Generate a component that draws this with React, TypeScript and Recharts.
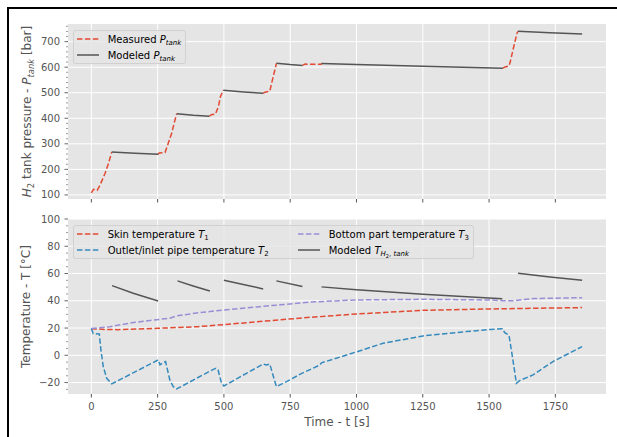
import React from 'react';
import { LineChart, Line, XAxis, YAxis, CartesianGrid, Legend, Label } from 'recharts';

const timeTicks = [0, 250, 500, 750, 1000, 1250, 1500, 1750];
const pressureTicks = [100, 200, 300, 400, 500, 600, 700];
const pressureMinorTicks = [120, 140, 160, 180, 220, 240, 260, 280, 320, 340, 360, 380, 420, 440, 460, 480, 520, 540, 560, 580, 620, 640, 660, 680, 720, 740, 760];
const temperatureTicks = [-20, 0, 20, 40, 60, 80, 100];
const temperatureMinorTicks = [-25, -15, -10, -5, 5, 10, 15, 25, 30, 35, 45, 50, 55, 65, 70, 75, 85, 90, 95];

// measured tank pressure, only during the fills (null = gap)
const measuredPTime = [0, 8, 22, 33, 52, 65, 77, 160, 250, 256, 278, 290, 303, 312, 322, 380, 445, 452, 468, 479, 487, 498, 570, 648, 655, 673, 683, 692, 698, 750, 796, 806, 866, 870, 1200, 1552, 1560, 1575, 1580, 1590, 1605, 1609];
const measuredP = [108, 122, 118, 139, 185, 224, 268, null, 258, 264, 266, 302, 341, 380, 418, null, 408, 414, 416, 445, 485, 510, null, 498, 502, 506, 550, 589, 615, null, 607, 612, 611, 615, null, 596, 601, 604, 621, 667, 732, 740];

// modeled tank pressure during the holds
const modeledPTime = [77, 165, 252, 290, 322, 385, 445, 470, 498, 575, 648, 670, 698, 750, 796, 830, 868, 1000, 1250, 1552, 1580, 1609, 1730, 1851];
const modeledP = [268, 263, 259, null, 418, 412, 408, null, 510, 503, 498, null, 615, 610, 607, null, 614, 610, 604, 596, null, 741, 735, 730];

const skinTime = [0, 50, 100, 250, 400, 500, 650, 800, 1000, 1250, 1500, 1851];
const skinT = [19.5, 19, 18.8, 19.8, 21, 22.5, 25, 27.5, 30.3, 33, 34, 35];

const pipeTime = [0, 7, 30, 36, 45, 58, 77, 252, 259, 271, 280, 296, 309, 322, 460, 470, 478, 491, 500, 648, 661, 673, 683, 698, 749, 786, 862, 868, 912, 1000, 1100, 1251, 1414, 1502, 1550, 1559, 1575, 1590, 1603, 1615, 1666, 1741, 1851];
const pipeT = [19.6, 16, 15.7, 3.9, -8.3, -16.9, -21, -3.4, -7, -5.4, -4.6, -18.1, -23, -24.7, -10.3, -9.5, -10.8, -20.5, -22.5, -6.4, -7.1, -6.4, -13.2, -23, -18, -14, -7.1, -5.5, -2.9, 2.5, 8.8, 14.2, 17.4, 19, 19.5, 16.6, 14.9, -3.4, -20.5, -18.6, -14.4, -4.6, 6.4];

const bottomTime = [0, 70, 158, 259, 296, 321, 409, 500, 635, 711, 824, 1000, 1251, 1502, 1552, 1590, 1666, 1851];
const bottomT = [19.6, 21, 24, 26.4, 27.2, 28.9, 31.3, 33.3, 35.7, 37, 39, 40.6, 41.1, 40.6, 40.1, 40, 41.6, 42.3];

const modeledTTime = [78, 158, 252, 290, 325, 384, 447, 470, 500, 573, 648, 670, 698, 796, 830, 868, 1000, 1251, 1550, 1580, 1609, 1730, 1851];
const modeledT = [51.1, 45.5, 39.9, null, 54.6, 50.9, 47.2, null, 55, 52, 48.7, null, 54.6, 50.4, null, 50.2, 48, 44.8, 41.4, null, 60.2, 57.5, 55];

const zip = (ts: number[], vs: (number | null)[]) => ts.map((t, i) => ({ t, v: vs[i] }));

const FONT = "'DejaVu Sans', sans-serif";
const INK = '#555555';
const RED = '#E24A33';
const BLUE = '#348ABD';
const PURPLE = '#988ED5';
const GREY = '#555555';
const DASH = '5.5 2.4';

const fmt = (v: number) => (v < 0 ? '\u2212' + Math.abs(v) : String(v));

const YTick = (props: any) => {
  const { x, y, payload, majors } = props;
  const major = majors.includes(payload.value);
  return (
    <g>
      <line x1={x + (major ? 4.5 : 6)} x2={x + 8} y1={y} y2={y} stroke={INK} strokeWidth={major ? 0.9 : 0.6} />
      {major && (
        <text x={x} y={y} dy="0.35em" textAnchor="end" fontSize={10} fill={INK}>
          {fmt(payload.value)}
        </text>
      )}
    </g>
  );
};

const Sub = ({ children, size = 7, shift = 2.5, italic = true }: any) => (
  <span style={{ fontSize: size, position: 'relative', top: shift, fontStyle: italic ? 'italic' : 'normal' }}>{children}</span>
);

const Sample = ({ color, dashed }: { color: string; dashed: boolean }) => (
  <svg width={22} height={10} style={{ display: 'block', marginRight: 9, flex: 'none' }}>
    <line x1={0} x2={22} y1={5} y2={5} stroke={color} strokeWidth={1.5} strokeDasharray={dashed ? DASH : undefined} />
  </svg>
);

const LegendBox = ({ items, columns }: { items: { color: string; dashed: boolean; label: React.ReactNode }[]; columns: string }) => (
  <div
    style={{
      display: 'inline-grid',
      gridTemplateColumns: columns,
      gridTemplateRows: '16px 16px',
      gridAutoFlow: 'column',
      background: 'rgba(229,229,229,0.8)',
      border: '1px solid rgba(204,204,204,0.8)',
      borderRadius: 3,
      padding: '0 4px 0 3px',
      fontSize: 10,
      color: '#000',
      fontFamily: FONT,
      whiteSpace: 'nowrap',
    }}
  >
    {items.map((it, i) => (
      <div key={i} style={{ display: 'flex', alignItems: 'center', height: 16 }}>
        <Sample color={it.color} dashed={it.dashed} />
        <span>{it.label}</span>
      </div>
    ))}
  </div>
);

const pressureItems = [
  { color: RED, dashed: true, label: <>Measured <i>P</i><Sub>tank</Sub></> },
  { color: GREY, dashed: false, label: <>Modeled <i>P</i><Sub>tank</Sub></> },
];

const temperatureItems = [
  { color: RED, dashed: true, label: <>Skin temperature <i>T</i><Sub italic={false}>1</Sub></> },
  { color: BLUE, dashed: true, label: <>Outlet/inlet pipe temperature <i>T</i><Sub italic={false}>2</Sub></> },
  { color: PURPLE, dashed: true, label: <>Bottom part temperature <i>T</i><Sub italic={false}>3</Sub></> },
  {
    color: GREY,
    dashed: false,
    label: (
      <>
        Modeled <i>T</i>
        <Sub>
          H<span style={{ fontSize: 5, position: 'relative', top: 1.5, fontStyle: 'normal' }}>2</span>
          <span style={{ fontStyle: 'normal' }}>, </span>tank
        </Sub>
      </>
    ),
  },
];

const PressureLabel = (props: any) => {
  const vb = props.viewBox || { x: 0, y: 24, width: 68, height: 175 };
  const cx = 31.3;
  const cy = vb.y + vb.height / 2;
  return (
    <text x={cx} y={cy} transform={`rotate(-90 ${cx} ${cy})`} textAnchor="middle" fontSize={12} fill={INK} style={{ whiteSpace: 'pre' }}>
      <tspan fontStyle="italic">H</tspan>
      <tspan fontSize={8.4} dy={2.6}>2</tspan>
      <tspan dy={-2.6}> tank pressure - </tspan>
      <tspan fontStyle="italic">P</tspan>
      <tspan fontSize={8.4} fontStyle="italic" dy={2.6}>tank</tspan>
      <tspan dy={-2.6}> [bar]</tspan>
    </text>
  );
};

const TemperatureLabel = (props: any) => {
  const vb = props.viewBox || { x: 0, y: 19, width: 68, height: 175 };
  const cx = 29.8;
  const cy = vb.y + vb.height / 2;
  return (
    <text x={cx} y={cy} transform={`rotate(-90 ${cx} ${cy})`} textAnchor="middle" fontSize={12} fill={INK}>
      Temperature - T [°C]
    </text>
  );
};

const TimeLabel = (props: any) => {
  const vb = props.viewBox || { x: 68, y: 194, width: 538, height: 43 };
  return (
    <text x={vb.x + vb.width / 2} y={vb.y + 32} textAnchor="middle" fontSize={12} fill={INK}>
      Time - t [s]
    </text>
  );
};

const measuredPData = zip(measuredPTime, measuredP);
const modeledPData = zip(modeledPTime, modeledP);
const skinData = zip(skinTime, skinT);
const pipeData = zip(pipeTime, pipeT);
const bottomData = zip(bottomTime, bottomT);
const modeledTData = zip(modeledTTime, modeledT);

export default function App() {
  return (
    <div style={{ position: 'absolute', left: 0, top: 0, width: 617, height: 437, background: '#fff', fontFamily: FONT, overflow: 'hidden' }}>
      <div style={{ position: 'absolute', left: 7, top: 7, right: 0, bottom: 0, borderTop: '2px solid #000', borderLeft: '2px solid #000' }} />

      <div style={{ position: 'absolute', left: 0, top: 0 }}>
        <LineChart width={617} height={220} margin={{ top: 24, right: 11, bottom: 0, left: 0 }}>
          <CartesianGrid fill="#E5E5E5" stroke="#fff" strokeWidth={1} horizontalValues={pressureTicks} verticalValues={timeTicks} />
          <XAxis dataKey="t" type="number" domain={[-88, 1941]} ticks={timeTicks} interval={0} height={21} axisLine={false} tickLine={{ stroke: INK }} tickSize={3.5} tickFormatter={() => ''} />
          <YAxis
            type="number"
            domain={[84, 769]}
            ticks={[...pressureTicks, ...pressureMinorTicks]}
            interval={0}
            width={68}
            axisLine={false}
            tickLine={{ stroke: 'none' }}
            tickSize={3.5}
            tickMargin={4.5}
            tick={(p: any) => <YTick {...p} majors={pressureTicks} />}
          >
            <Label content={PressureLabel} />
          </YAxis>
          <Legend
            layout="horizontal"
            verticalAlign="middle"
            align="center"
            wrapperStyle={{ left: 72.7, top: 29.3, width: 'auto' }}
            content={() => <LegendBox items={pressureItems} columns="auto" />}
          />
          <Line data={measuredPData} dataKey="v" stroke={RED} strokeWidth={1.5} strokeDasharray={DASH} dot={false} isAnimationActive={false} />
          <Line data={modeledPData} dataKey="v" stroke={GREY} strokeWidth={1.5} dot={false} isAnimationActive={false} />
        </LineChart>
      </div>

      <div style={{ position: 'absolute', left: 0, top: 200 }}>
        <LineChart width={617} height={237} margin={{ top: 19, right: 11, bottom: 0, left: 0 }}>
          <CartesianGrid fill="#E5E5E5" stroke="#fff" strokeWidth={1} horizontalValues={temperatureTicks} verticalValues={timeTicks} />
          <XAxis
            dataKey="t"
            type="number"
            domain={[-88, 1941]}
            ticks={timeTicks}
            interval={0}
            height={43}
            axisLine={false}
            tickLine={{ stroke: INK }}
            tickSize={3.5}
            tickMargin={5.4}
            tick={{ fill: INK, fontSize: 10 }}
          >
            <Label content={TimeLabel} />
          </XAxis>
          <YAxis
            type="number"
            domain={[-28.4, 100]}
            ticks={[...temperatureTicks, ...temperatureMinorTicks]}
            interval={0}
            width={68}
            axisLine={false}
            tickLine={{ stroke: 'none' }}
            tickSize={3.5}
            tickMargin={4.5}
            tick={(p: any) => <YTick {...p} majors={temperatureTicks} />}
          >
            <Label content={TemperatureLabel} />
          </YAxis>
          <Legend
            layout="horizontal"
            verticalAlign="middle"
            align="center"
            wrapperStyle={{ left: 72.7, top: 24.3, width: 'auto' }}
            content={() => <LegendBox items={temperatureItems} columns="221px auto" />}
          />
          <Line data={skinData} dataKey="v" stroke={RED} strokeWidth={1.5} strokeDasharray={DASH} dot={false} isAnimationActive={false} />
          <Line data={pipeData} dataKey="v" stroke={BLUE} strokeWidth={1.5} strokeDasharray={DASH} dot={false} isAnimationActive={false} />
          <Line data={bottomData} dataKey="v" stroke={PURPLE} strokeWidth={1.5} strokeDasharray={DASH} dot={false} isAnimationActive={false} />
          <Line data={modeledTData} dataKey="v" stroke={GREY} strokeWidth={1.5} dot={false} isAnimationActive={false} />
        </LineChart>
      </div>
    </div>
  );
}
